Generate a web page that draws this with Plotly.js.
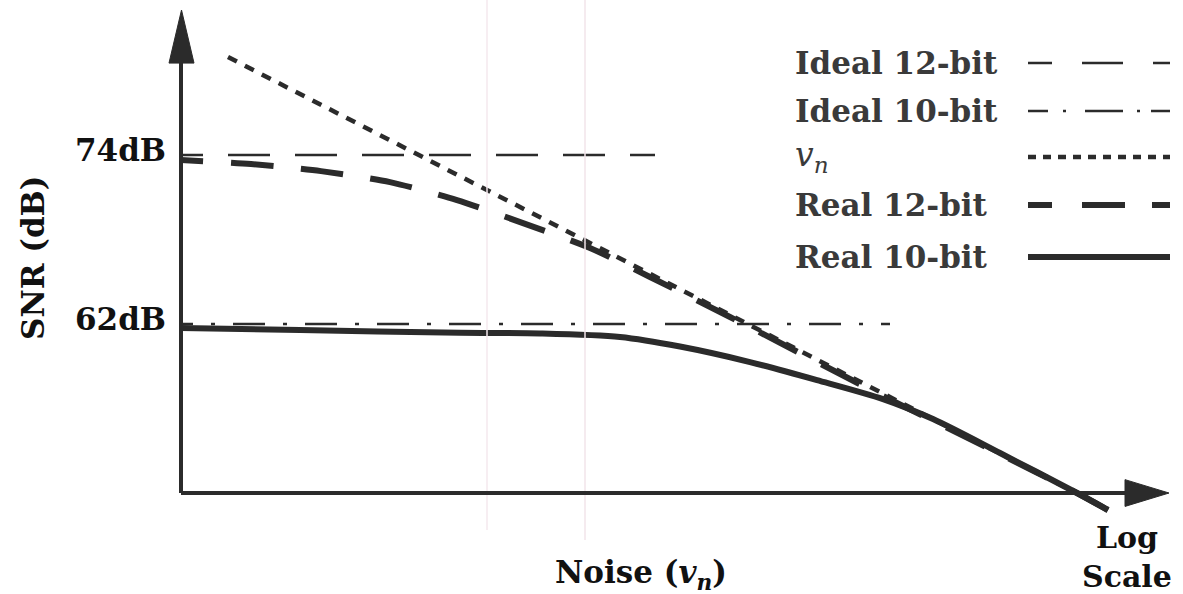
<!DOCTYPE html>
<html>
<head>
<meta charset="utf-8">
<script src="https://cdn.plot.ly/plotly-3.0.1.min.js"></script>
<style>html,body{margin:0;padding:0;background:#fff;}#chart{width:1183px;height:594px;}</style>
</head>
<body>
<div id="chart"></div>
<script>
// ---- data (noise on a log scale, arbitrary decades; SNR in dB) ----
const noiseIdeal12 = [0, 4.74];
const snrIdeal12   = [74, 74];
const noiseIdeal10 = [0, 7.09];
const snrIdeal10   = [62, 62];
const noiseVn = [0.47, 9.27];
const snrVn   = [80.96, 48.86];
const noiseReal12 = [0, 0.70, 1.40, 2.09, 2.76, 3.42, 4.09, 4.69, 5.49, 7.02, 8.19, 8.96, 9.27];
const snrReal12   = [73.65, 73.36, 72.86, 72.08, 70.80, 69.17, 67.40, 65.34, 62.50, 56.89, 52.77, 50.0, 48.79];
const noiseReal10 = [0, 1.19, 2.79, 3.59, 4.39, 4.99, 5.69, 6.36, 7.02, 7.52, 8.19, 8.96, 9.27];
const snrReal10   = [61.72, 61.57, 61.38, 61.33, 61.08, 60.40, 59.30, 58.02, 56.67, 55.25, 52.84, 50.0, 48.79];
const tickVals = [74, 62];
const tickText = ['74dB', '62dB'];
const legendLabels = ['Ideal 12-bit', 'Ideal 10-bit', '<i>v</i><sub><i>n</i></sub>', 'Real 12-bit', 'Real 10-bit'];

// ---- layout helpers ----
const W = 1183, H = 594;
const px = v => v / W;          // paper x from pixel
const py = v => 1 - v / H;      // paper y from pixel
const ink = '#2b2b2b';
function dash(prefix, pattern, repeats) {
  let arr = prefix.slice();
  for (let i = 0; i < repeats; i++) arr = arr.concat(pattern);
  return arr.map(v => v + 'px').join(',');
}
const dIdeal12 = dash([22, 25], [42, 25], 20);
const dIdeal10 = dash([12, 18, 4, 18], [32, 18, 4, 18], 20);
const dVn = dash([], [10, 9], 80);
const dReal12 = dash([22, 28], [43, 27], 25);

const traces = [
  {x: noiseIdeal12, y: snrIdeal12, mode: 'lines', line: {color: ink, width: 2.5, dash: dIdeal12}},
  {x: noiseIdeal10, y: snrIdeal10, mode: 'lines', line: {color: ink, width: 2.5, dash: dIdeal10}},
  {x: noiseReal10, y: snrReal10, mode: 'lines', line: {color: ink, width: 6, shape: 'spline', smoothing: 0.8}},
  {x: noiseReal12, y: snrReal12, mode: 'lines', line: {color: ink, width: 6, shape: 'spline', smoothing: 0.7, dash: dReal12}},
  {x: noiseVn, y: snrVn, mode: 'lines', line: {color: ink, width: 4.5, dash: dVn}}
].map(t => Object.assign(t, {showlegend: false, hoverinfo: 'skip'}));

// axes with arrows (data coordinates: axis origin at noise 0, SNR 50 dB)
const xAxisY = 50, yAxisX = 0;
const shapes = [
  // faint scan lines
  {type: 'line', xref: 'paper', yref: 'paper', x0: px(487), x1: px(487), y0: py(0), y1: py(530), line: {color: '#f4e9ee', width: 1.5}},
  {type: 'line', xref: 'paper', yref: 'paper', x0: px(585), x1: px(585), y0: py(0), y1: py(540), line: {color: '#f2e4ea', width: 1.5}},
  {type: 'line', xref: 'x', yref: 'y', x0: yAxisX, x1: yAxisX, y0: xAxisY, y1: 81, line: {color: ink, width: 4}},
  {type: 'line', xref: 'x', yref: 'y', x0: yAxisX, x1: 9.5, y0: xAxisY, y1: xAxisY, line: {color: ink, width: 4}},
  {type: 'path', xref: 'x', yref: 'y', path: 'M -0.12,80.53 L 0.13,80.53 L 0.005,84.3 Z', fillcolor: ink, line: {color: ink, width: 1}},
  {type: 'path', xref: 'x', yref: 'y', path: 'M 9.44,49.05 L 9.44,50.95 L 9.88,50.0 Z', fillcolor: ink, line: {color: ink, width: 1}}
];

// legend sample lines
const legRows = [63, 111, 157, 205, 257];
const legDash = [dash([24, 30], [41, 30], 3), dash([], [20, 15, 3, 19, 38, 14, 3, 11, 20, 40], 1), dash([], [8, 7], 12), dash([24, 30], [43, 27], 3), 'solid'];
const legWidth = [2.5, 2.5, 4.5, 6, 6];
legRows.forEach((r, i) => shapes.push({type: 'line', xref: 'paper', yref: 'paper', x0: px(1028), x1: px(1170), y0: py(r), y1: py(r), line: {color: ink, width: legWidth[i], dash: legDash[i]}}));

const serif = 'DejaVu Serif, Liberation Serif, serif';
const annotations = [];
tickVals.forEach((v, i) => annotations.push({xref: 'paper', yref: 'y', x: px(168), y: v + 0.35, xanchor: 'right', yanchor: 'middle', text: tickText[i], showarrow: false, font: {family: serif, size: 31, color: '#111', weight: 'bold'}}));
legendLabels.forEach((lab, i) => {
  const isV = i === 2;
  annotations.push({xref: 'paper', yref: 'paper', x: px(793), y: py(legRows[i]), xanchor: 'left', yanchor: 'middle', text: lab, showarrow: false,
    font: {family: serif, size: isV ? 33 : 31, color: '#3a3a3a', weight: isV ? 'normal' : 'bold'}});
});
annotations.push({xref: 'paper', yref: 'paper', x: px(33), y: py(258), textangle: -90, xanchor: 'center', yanchor: 'middle', text: 'SNR (dB)', showarrow: false, font: {family: serif, size: 31, color: '#111', weight: 'bold'}});
annotations.push({xref: 'paper', yref: 'paper', x: px(641), y: py(574), xanchor: 'center', yanchor: 'middle', text: 'Noise (<i>v</i><sub><i>n</i></sub>)', showarrow: false, font: {family: serif, size: 31, color: '#111', weight: 'bold'}});
annotations.push({xref: 'paper', yref: 'paper', x: px(1127), y: py(557), xanchor: 'center', yanchor: 'middle', text: 'Log<br>Scale', showarrow: false, font: {family: serif, size: 30, color: '#111', weight: 'bold'}});

const layout = {
  width: W, height: H,
  margin: {l: 0, r: 0, t: 0, b: 0, pad: 0},
  paper_bgcolor: '#fff', plot_bgcolor: '#fff',
  xaxis: {range: [-1.81, 10.02], visible: false, fixedrange: true},
  yaxis: {range: [42.83, 85.01], visible: false, fixedrange: true},
  shapes: shapes,
  annotations: annotations,
  showlegend: false
};
Plotly.newPlot('chart', traces, layout, {displayModeBar: false, staticPlot: true});
</script>
</body>
</html>
